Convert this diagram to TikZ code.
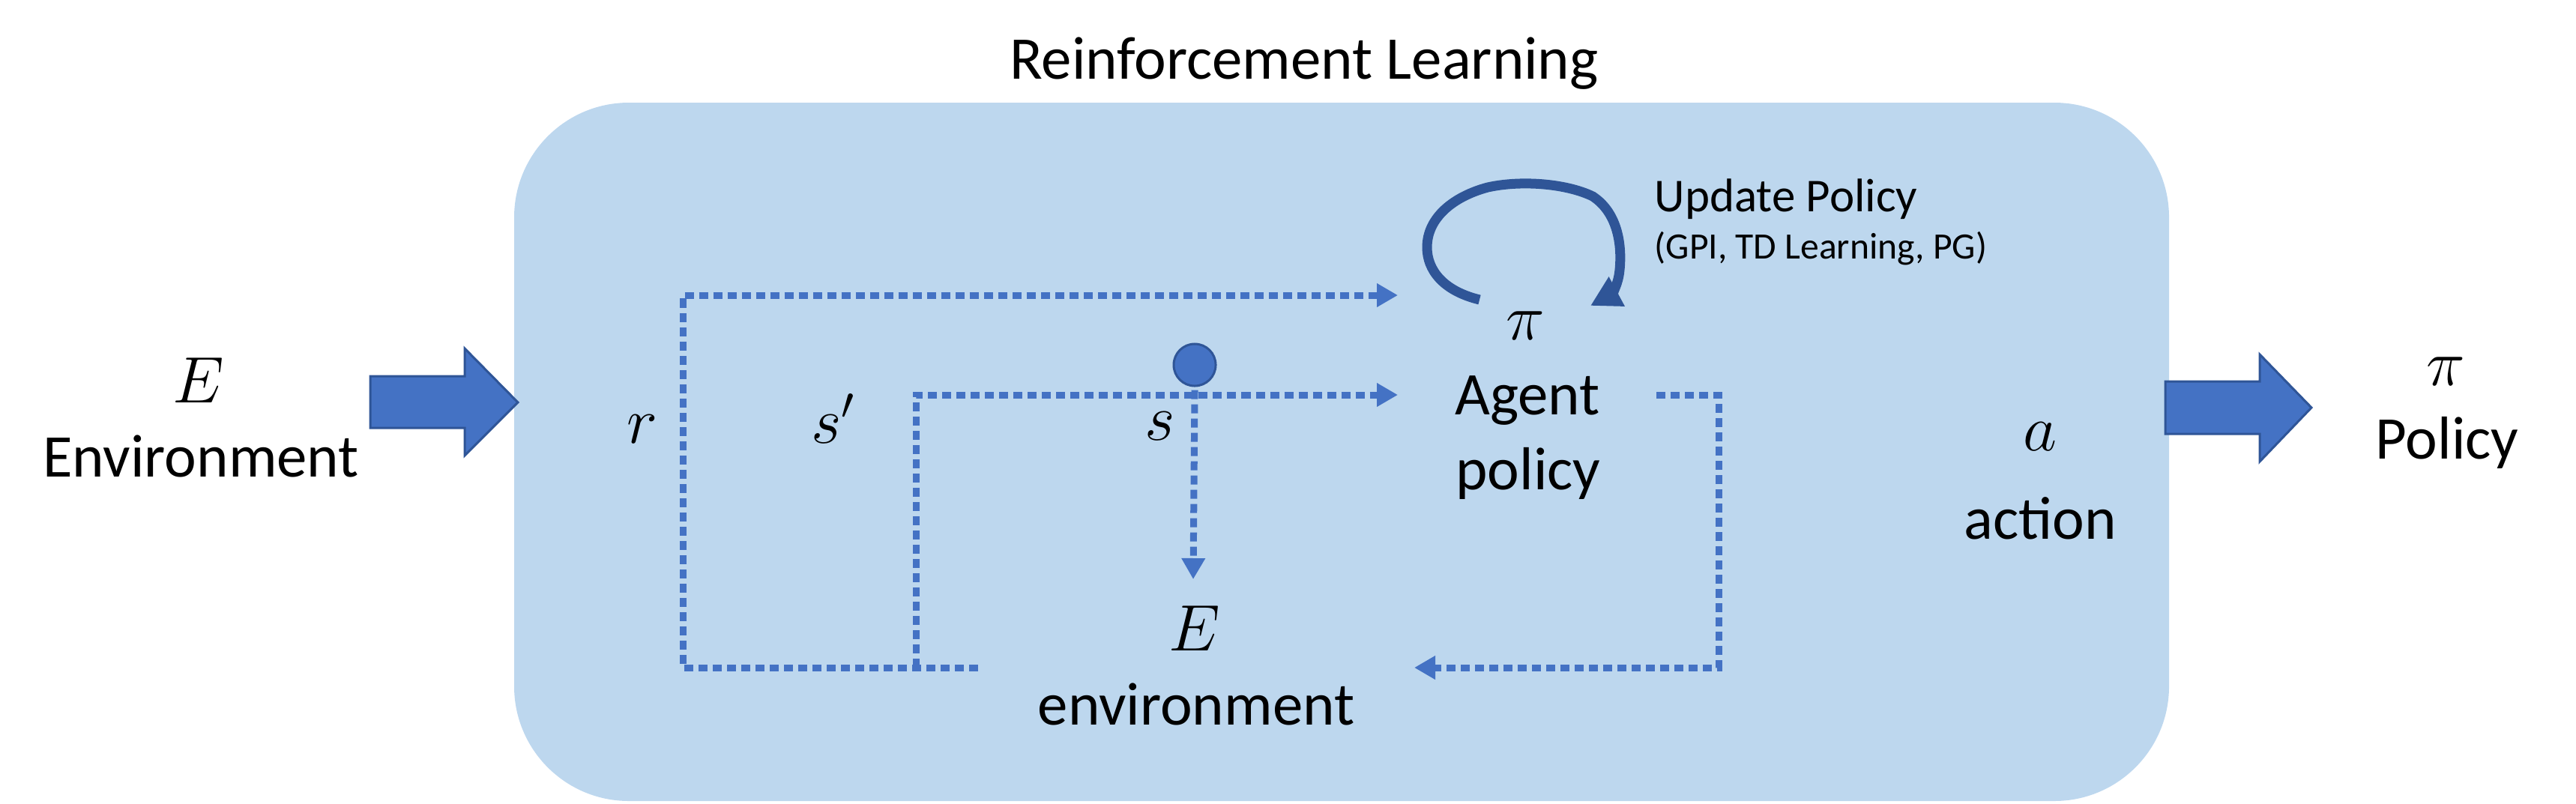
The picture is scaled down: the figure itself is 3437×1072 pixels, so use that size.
\documentclass[tikz,border=0pt]{standalone}
\usepackage{fontspec}
\setmainfont{Carlito}
\usetikzlibrary{arrows.meta}
\definecolor{boxblue}{HTML}{BDD7EE}
\definecolor{lineblue}{HTML}{4472C4}
\definecolor{darkblue}{HTML}{2F5597}
\begin{document}
\begin{tikzpicture}[x=0.01cm,y=-0.01cm,
  txt/.style={font=\fontsize{23}{28}\selectfont, inner sep=0pt, anchor=base},
  flowline/.style={draw=lineblue, line width=0.09cm, dash pattern=on 0.12cm off 0.07cm},
  flowarrow/.style={flowline, -{Triangle[length=0.28cm,width=0.3cm]}},
  bigarrow/.style={fill=lineblue, draw=darkblue, line width=0.03cm, line join=miter},
  looparrow/.style={draw=darkblue, line width=0.13cm, -{Triangle[length=0.4cm,width=0.42cm]}}]
\useasboundingbox (0,0) rectangle (3437,1072);
% main box
\fill[boxblue, rounded corners=1.53cm] (686,137) rectangle (2894,1069);
% big arrows
\draw[bigarrow] (494,502) -- (620,502) -- (620,465) -- (691,537) -- (620,608) -- (620,571) -- (494,571) -- cycle;
\draw[bigarrow] (2889,509) -- (3015,509) -- (3015,473) -- (3084,544) -- (3015,616) -- (3015,579) -- (2889,579) -- cycle;
% texts
\node[txt] (title) at (1740,105) {Reinforcement Learning};
\node[txt] (Eout) at (265,537) {$E$};
\node[txt] (envout) at (268,636) {Environment};
\node[txt] (r) at (857,591) {$r$};
\node[txt] (sp) at (1112,591) {$s'$};
\node[txt] (s) at (1548,587) {$s$};
\node[txt] (Ein) at (1594,868) {$E$};
\node[txt] (envin) at (1596,967) {environment};
\node[txt] (pi) at (2035,453) {$\pi$};
\node[txt] (agent) at (2038,553) {Agent};
\node[txt] (policy) at (2039,653) {policy};
\node[txt, anchor=base west, font=\fontsize{17.9}{21}\selectfont] (upd) at (2207,282) {Update Policy};
\node[txt, anchor=base west, font=\fontsize{14.1}{17}\selectfont] (methods) at (2207,345) {(GPI, TD Learning, PG)};
\node[txt] (a) at (2722,601) {$a$};
\node[txt] (action) at (2722,719) {action};
\node[txt] (piout) at (3263,514) {$\pi$};
\node[txt] (polout) at (3265,612) {Policy};
% state dot
\node[circle, fill=lineblue, draw=darkblue, line width=0.03cm, minimum size=0.56cm, inner sep=0pt] (sdot) at (1594,487) {};
% coordinates for connectors
\coordinate (rstart) at (1305,891);
\coordinate (rcornerB) at (911,891);
\coordinate (rcornerT) at (911,394);
\coordinate (piin) at (1865,394);
\coordinate (spstart) at (1222,891);
\coordinate (spcorner) at (1222,527);
\coordinate (agentin) at (1865,527);
\coordinate (stoE) at (1592,773);
\coordinate (agentout) at (2210,527);
\coordinate (acornerT) at (2293,527);
\coordinate (acornerB) at (2293,891);
\coordinate (envinR) at (1887,891);
\coordinate (loopstart) at (1974,400);
\coordinate (looptip) at (2122,408);
% dotted flows
\draw[flowarrow] (rstart) -- (rcornerB) -- (rcornerT) -- (piin);
\draw[flowarrow] (spstart) -- (spcorner) -- (agentin);
\draw[flowarrow] (sdot.south) ++(0,4) -- (stoE);
\draw[flowarrow] (agentout) -- (acornerT) -- (acornerB) -- (envinR);
% update loop
\draw[looparrow] (loopstart) .. controls (1925,388) and (1904,360) .. (1904,330)
  .. controls (1904,290) and (1940,262) .. (1985,250)
  .. controls (2030,240) and (2090,245) .. (2125,262)
  .. controls (2160,285) and (2164,330) .. (2161,360)
  .. controls (2159,383) and (2148,394) .. (looptip);
\end{tikzpicture}
\end{document}
